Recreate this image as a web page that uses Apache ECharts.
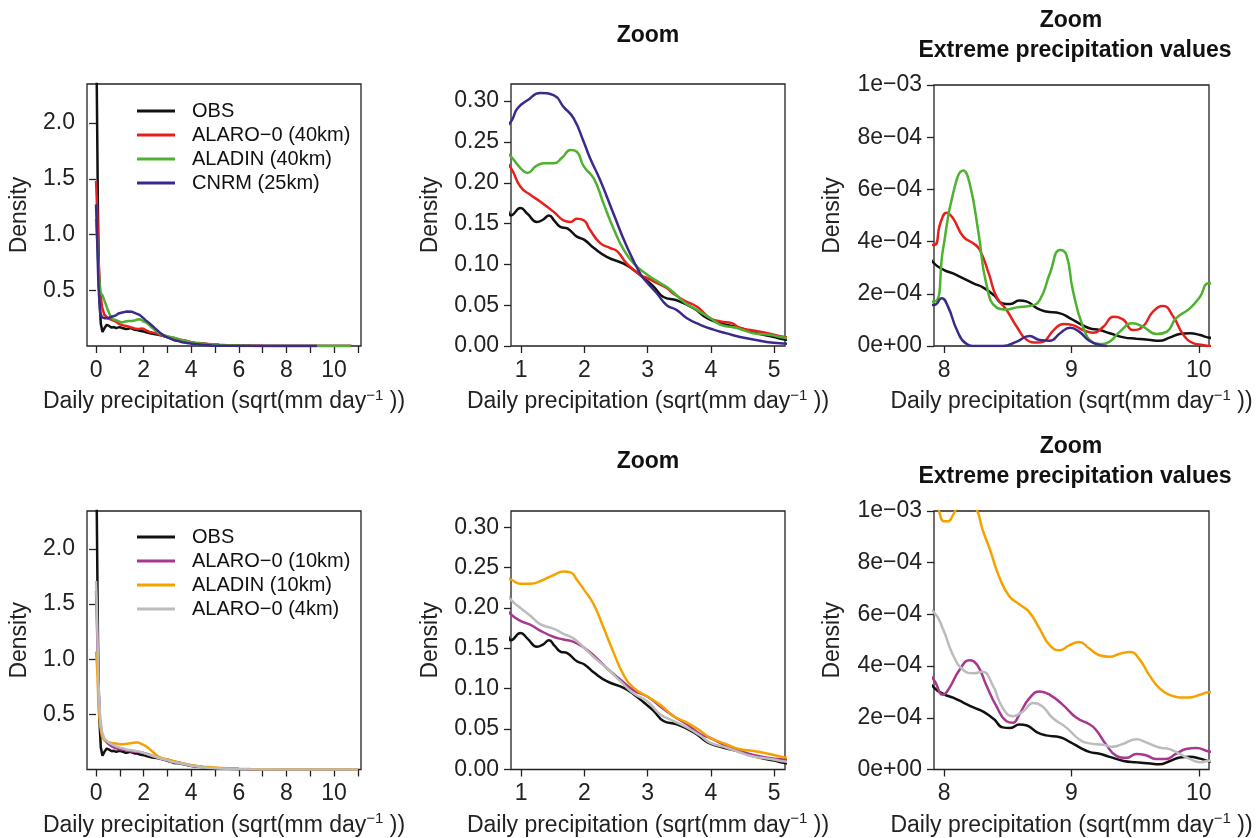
<!DOCTYPE html>
<html>
<head>
<meta charset="utf-8">
<script src="https://cdn.jsdelivr.net/npm/echarts@6/dist/echarts.min.js"></script>
<style>
  html, body { margin: 0; padding: 0; background: #fff; }
  #chart { width: 1259px; height: 838px; }
</style>
</head>
<body>
<div id="chart"></div>
<script>
// density curves, x = sqrt(mm/day)
var obsX = [0, 0.03, 0.08, 0.13, 0.2, 0.27, 0.35, 0.45, 0.55, 0.66, 0.75,
  0.84, 0.99, 1.1, 1.25, 1.35, 1.44, 1.53, 1.62, 1.73, 1.88, 2.0, 2.15, 2.36, 2.62, 2.78, 2.94, 3.09, 3.25, 3.46, 3.73, 3.94, 4.15, 4.46, 4.73, 5.0, 5.17,
  5.5, 6.0, 6.5, 7.0, 7.5,
  7.92, 8.0, 8.07, 8.15, 8.23, 8.31, 8.39, 8.46, 8.52, 8.59, 8.65, 8.73, 8.8, 8.91, 8.99, 9.07, 9.14, 9.22, 9.3, 9.41, 9.51, 9.62, 9.69, 9.77, 9.85, 9.93, 10.01, 10.08, 10.4, 10.7];
var obsY = [4.0, 2.35, 1.2, 0.5, 0.2, 0.125, 0.16, 0.19, 0.18, 0.165, 0.17,
  0.160, 0.169, 0.162, 0.152, 0.155, 0.160, 0.153, 0.146, 0.144, 0.134, 0.130, 0.120, 0.109, 0.101, 0.093, 0.083, 0.073, 0.060, 0.056, 0.046, 0.034, 0.028, 0.022, 0.0155, 0.011, 0.008,
  0.0058, 0.0035, 0.0019, 0.0010, 0.00055,
  3.17e-4, 2.91e-4, 2.78e-4, 2.59e-4, 2.40e-4, 2.23e-4, 1.95e-4, 1.63e-4, 1.61e-4, 1.74e-4, 1.70e-4, 1.44e-4, 1.32e-4, 1.25e-4, 1.06e-4, 0.84e-4, 0.68e-4, 0.61e-4, 0.49e-4, 0.33e-4, 0.28e-4, 0.23e-4, 0.20e-4, 0.32e-4, 0.46e-4, 0.49e-4, 0.42e-4, 0.32e-4, 0.2e-4, 0.1e-4];

var alaro40X = [0, 0.05, 0.1, 0.17, 0.25, 0.35, 0.5, 0.65,
  0.84, 0.99, 1.15, 1.3, 1.52, 1.67, 1.78, 1.88, 1.99, 2.09, 2.25, 2.41, 2.52, 2.67, 2.88, 3.0, 3.1, 3.3, 3.41, 3.57, 3.78, 3.99, 4.15, 4.33, 4.46, 4.67, 4.88, 5.17,
  5.5, 6.0, 6.5, 7.0, 7.5,
  7.92, 7.97, 8.02, 8.07, 8.15, 8.23, 8.28, 8.35, 8.41, 8.49, 8.57, 8.65, 8.73, 8.78, 8.86, 8.94, 9.01, 9.09, 9.17, 9.25, 9.33, 9.41, 9.48, 9.56, 9.64, 9.72, 9.8, 9.88, 9.96, 10.03, 10.08, 10.4, 10.75];
var alaro40Y = [1.48, 1.2, 0.8, 0.5, 0.35, 0.28, 0.25, 0.235,
  0.218, 0.195, 0.185, 0.177, 0.164, 0.154, 0.152, 0.156, 0.154, 0.142, 0.126, 0.120, 0.116, 0.101, 0.087, 0.083, 0.079, 0.071, 0.064, 0.056, 0.048, 0.034, 0.030, 0.028, 0.022, 0.019, 0.016, 0.011,
  0.0075, 0.0045, 0.0025, 0.0013, 0.0007,
  3.87e-4, 4.70e-4, 5.11e-4, 4.89e-4, 4.19e-4, 3.93e-4, 3.68e-4, 2.78e-4, 1.89e-4, 1.38e-4, 0.74e-4, 0.23e-4, 0.13e-4, 0.17e-4, 0.61e-4, 0.84e-4, 0.80e-4, 0.61e-4, 0.51e-4, 0.74e-4, 1.12e-4, 1.00e-4, 0.61e-4, 0.74e-4, 1.32e-4, 1.53e-4, 1.12e-4, 0.42e-4, 0.10e-4, 0.04e-4, 0, 0, 0];

var aladin40X = [0, 0.05, 0.1, 0.18, 0.28, 0.4, 0.5, 0.6, 0.72,
  0.84, 0.99, 1.1, 1.23, 1.36, 1.52, 1.65, 1.78, 1.88, 1.99, 2.15, 2.3, 2.46, 2.62, 2.78, 3.0, 3.2, 3.36, 3.57, 3.78, 3.99, 4.15, 4.41, 4.67, 4.94, 5.17,
  5.5, 6.0, 6.5, 7.0, 7.5,
  7.92, 7.99, 8.07, 8.15, 8.2, 8.27, 8.33, 8.41, 8.49, 8.57, 8.67, 8.75, 8.83, 8.91, 8.96, 9.01, 9.09, 9.17, 9.22, 9.3, 9.38, 9.48, 9.56, 9.67, 9.75, 9.82, 9.93, 10.01, 10.08, 10.3, 10.7];
var aladin40Y = [1.14, 0.95, 0.7, 0.48, 0.45, 0.38, 0.32, 0.27, 0.24,
  0.232, 0.218, 0.212, 0.220, 0.224, 0.224, 0.231, 0.240, 0.238, 0.220, 0.205, 0.175, 0.144, 0.118, 0.101, 0.087, 0.077, 0.069, 0.054, 0.044, 0.034, 0.026, 0.022, 0.0155, 0.0135, 0.010,
  0.007, 0.004, 0.0022, 0.0011, 0.0005,
  1.70e-4, 3.68e-4, 5.85e-4, 6.72e-4, 6.23e-4, 4.32e-4, 2.40e-4, 1.48e-4, 1.40e-4, 1.48e-4, 1.53e-4, 1.76e-4, 2.78e-4, 3.68e-4, 3.49e-4, 2.15e-4, 0.74e-4, 0.13e-4, 0.08e-4, 0.17e-4, 0.55e-4, 0.87e-4, 0.74e-4, 0.46e-4, 0.55e-4, 1.06e-4, 1.44e-4, 1.89e-4, 2.40e-4, 2.0e-4, 0.5e-4];

var cnrmX = [0, 0.04, 0.1, 0.17, 0.25, 0.35, 0.5, 0.65,
  0.84, 0.94, 1.1, 1.3, 1.52, 1.67, 1.83, 1.99, 2.09, 2.25, 2.46, 2.67, 2.88, 3.0, 3.15, 3.3, 3.46, 3.62, 3.83, 4.04, 4.25, 4.46, 4.67, 4.88, 5.17,
  5.5, 6.0, 6.5, 7.0, 7.5,
  7.92, 7.98, 8.03, 8.1, 8.17, 8.25, 8.46, 8.57, 8.67, 8.75, 8.83, 8.91, 8.99, 9.06, 9.14, 9.22, 9.28];
var cnrmY = [1.27, 1.0, 0.55, 0.3, 0.258, 0.25, 0.25, 0.262,
  0.275, 0.291, 0.301, 0.310, 0.307, 0.293, 0.279, 0.250, 0.230, 0.203, 0.162, 0.122, 0.089, 0.077, 0.064, 0.050, 0.044, 0.034, 0.026, 0.020, 0.0155, 0.011, 0.008, 0.005, 0.003,
  0.0017, 0.0008, 0.0004, 0.00025, 0.0002,
  1.57e-4, 1.83e-4, 1.51e-4, 0.61e-4, 0.10e-4, 0, 0, 0.17e-4, 0.38e-4, 0.23e-4, 0.20e-4, 0.49e-4, 0.70e-4, 0.55e-4, 0.20e-4, 0.04e-4, 0];

var alaro10X = [0, 0.04, 0.1, 0.17, 0.25, 0.35, 0.5, 0.65,
  0.84, 0.99, 1.15, 1.3, 1.52, 1.67, 1.83, 1.99, 2.15, 2.36, 2.57, 2.78, 3.0, 3.2, 3.41, 3.62, 3.83, 3.99, 4.25, 4.46, 4.67, 4.94, 5.17,
  5.5, 6.0, 6.5, 7.0, 7.5,
  7.92, 7.99, 8.04, 8.12, 8.2, 8.26, 8.33, 8.41, 8.49, 8.54, 8.59, 8.67, 8.75, 8.83, 8.93, 9.04, 9.14, 9.19, 9.27, 9.35, 9.43, 9.51, 9.59, 9.66, 9.74, 9.82, 9.9, 9.98, 10.08, 10.5, 11.0];
var alaro10Y = [1.62, 1.3, 0.75, 0.45, 0.32, 0.27, 0.235, 0.21,
  0.192, 0.184, 0.179, 0.172, 0.164, 0.161, 0.158, 0.151, 0.141, 0.125, 0.111, 0.098, 0.090, 0.078, 0.066, 0.056, 0.044, 0.039, 0.029, 0.023, 0.018, 0.014, 0.012,
  0.008, 0.0045, 0.0022, 0.0011, 0.0006,
  3.46e-4, 2.89e-4, 3.15e-4, 3.85e-4, 4.23e-4, 4.04e-4, 3.27e-4, 2.45e-4, 1.87e-4, 1.81e-4, 2.13e-4, 2.76e-4, 3.02e-4, 2.89e-4, 2.51e-4, 2.00e-4, 1.75e-4, 1.55e-4, 0.98e-4, 0.54e-4, 0.45e-4, 0.60e-4, 0.54e-4, 0.41e-4, 0.41e-4, 0.60e-4, 0.79e-4, 0.83e-4, 0.70e-4, 0.3e-4, 0.1e-4];

var aladin10X = [0, 0.05, 0.1, 0.17, 0.25, 0.35, 0.5, 0.65,
  0.84, 0.99, 1.15, 1.3, 1.52, 1.67, 1.78, 1.88, 1.99, 2.15, 2.3, 2.46, 2.62, 2.78, 3.0, 3.2, 3.41, 3.62, 3.83, 3.99, 4.25, 4.46, 4.67, 4.94, 5.17,
  5.5, 6.0, 6.5, 7.0, 7.5,
  7.92, 7.96, 8.0, 8.03, 8.07, 8.1, 8.2, 8.26, 8.3, 8.36, 8.43, 8.51, 8.59, 8.67, 8.75, 8.83, 8.91, 8.98, 9.06, 9.14, 9.22, 9.3, 9.38, 9.46, 9.53, 9.61, 9.69, 9.77, 9.85, 9.93, 10.01, 10.08, 10.5, 11.0];
var aladin10Y = [1.07, 0.9, 0.6, 0.4, 0.3, 0.265, 0.25, 0.24,
  0.235, 0.230, 0.230, 0.233, 0.241, 0.245, 0.244, 0.235, 0.223, 0.204, 0.176, 0.145, 0.117, 0.101, 0.090, 0.080, 0.066, 0.058, 0.048, 0.039, 0.031, 0.025, 0.023, 0.019, 0.015,
  0.011, 0.007, 0.0042, 0.0024, 0.0014,
  1.10e-3, 1.0e-3, 9.6e-4, 9.6e-4, 9.85e-4, 1.01e-3, 1.04e-3, 1.0e-3, 9.3e-4, 8.5e-4, 7.48e-4, 6.71e-4, 6.39e-4, 6.08e-4, 5.44e-4, 4.80e-4, 4.61e-4, 4.80e-4, 4.93e-4, 4.68e-4, 4.42e-4, 4.36e-4, 4.48e-4, 4.55e-4, 4.29e-4, 3.66e-4, 3.15e-4, 2.89e-4, 2.79e-4, 2.79e-4, 2.89e-4, 2.99e-4, 2e-4, 1e-4];

var alaro4X = [0, 0.04, 0.1, 0.17, 0.25, 0.35, 0.5, 0.65,
  0.84, 0.99, 1.15, 1.3, 1.52, 1.67, 1.83, 1.99, 2.15, 2.36, 2.57, 2.78, 3.0, 3.2, 3.41, 3.62, 3.83, 3.99, 4.25, 4.46, 4.67, 4.94, 5.17,
  5.5, 6.0, 6.5, 7.0, 7.5,
  7.92, 7.99, 8.07, 8.15, 8.23, 8.3, 8.38, 8.46, 8.54, 8.62, 8.7, 8.77, 8.85, 8.96, 9.06, 9.14, 9.25, 9.32, 9.4, 9.51, 9.59, 9.69, 9.77, 9.85, 9.93, 10.01, 10.08, 10.5, 11.0];
var alaro4Y = [1.71, 1.4, 0.8, 0.47, 0.34, 0.28, 0.25, 0.23,
  0.210, 0.200, 0.190, 0.180, 0.174, 0.168, 0.162, 0.151, 0.139, 0.125, 0.109, 0.094, 0.084, 0.068, 0.060, 0.052, 0.042, 0.033, 0.027, 0.021, 0.016, 0.013, 0.010,
  0.0068, 0.0038, 0.002, 0.0011, 0.0008,
  6.08e-4, 5.44e-4, 4.42e-4, 3.85e-4, 3.72e-4, 3.78e-4, 3.27e-4, 2.38e-4, 2.06e-4, 2.25e-4, 2.57e-4, 2.45e-4, 2.00e-4, 1.62e-4, 1.17e-4, 1.01e-4, 0.96e-4, 0.88e-4, 0.98e-4, 1.17e-4, 1.04e-4, 0.85e-4, 0.79e-4, 0.60e-4, 0.41e-4, 0.28e-4, 0.34e-4, 0.2e-4, 0.1e-4];

// series names and colours
var topNames = ['OBS', 'ALARO\u22120 (40km)', 'ALADIN (40km)', 'CNRM (25km)'];
var botNames = ['OBS', 'ALARO\u22120 (10km)', 'ALADIN (10km)', 'ALARO\u22120 (4km)'];
var topColors = ['#111111', '#e8201c', '#4fb130', '#3b2a8c'];
var botColors = ['#111111', '#a8378f', '#f5a200', '#bcbcbc'];

// tick positions / labels
var fullXTicks = [0, 1, 2, 3, 4, 5, 6, 7, 8, 9, 10, 11];
var fullXLabels = [0, 2, 4, 6, 8, 10];
var fullYTicks = [0.5, 1.0, 1.5, 2.0];
var zoomXTicks = [1, 2, 3, 4, 5];
var zoomYTicks = [0, 0.05, 0.10, 0.15, 0.20, 0.25, 0.30];
var extXTicks = [8, 9, 10];
var extYTicks = [0, 2e-4, 4e-4, 6e-4, 8e-4, 1e-3];
var extYLabels = ['0e+00', '2e\u221204', '4e\u221204', '6e\u221204', '8e\u221204', '1e\u221203'];

function zip(xs, ys) {
  var out = [];
  for (var i = 0; i < xs.length; i++) out.push([xs[i], ys[i]]);
  return out;
}

var topData = [zip(obsX, obsY), zip(alaro40X, alaro40Y), zip(aladin40X, aladin40Y), zip(cnrmX, cnrmY)];
var botData = [zip(obsX, obsY), zip(alaro10X, alaro10Y), zip(aladin10X, aladin10Y), zip(alaro4X, alaro4Y)];

var FONT = 'Liberation Sans, Arial, Helvetica, sans-serif';
var INK = '#222';
var FS = 23;

var grids = [
  {left: 87, top: 84, width: 274, height: 262},
  {left: 511, top: 84, width: 274, height: 262},
  {left: 934, top: 85, width: 275, height: 261},
  {left: 87, top: 511, width: 274, height: 261},
  {left: 511, top: 511, width: 274, height: 261},
  {left: 934, top: 511, width: 275, height: 261}
].map(function (g) {
  g.show = true; g.borderColor = INK; g.borderWidth = 1.3; g.backgroundColor = 'transparent';
  return g;
});

var xName = '{a|Daily precipitation (sqrt(mm day}{s|\u22121}{a| ))}';

function xAxis(i, min, max, ticks, labels) {
  return {
    type: 'value', gridIndex: i, min: min, max: max,
    splitLine: {show: false},
    axisLine: {show: false},
    axisTick: {show: true, length: 7, lineStyle: {color: INK, width: 1.3}, customValues: ticks},
    axisLabel: {color: INK, fontFamily: FONT, fontSize: FS, margin: 13, customValues: labels,
      formatter: function (v) { return String(v); }},
    name: xName, nameLocation: 'middle', nameGap: 42,
    nameTextStyle: {
      rich: {
        a: {fontFamily: FONT, fontSize: FS, color: INK, lineHeight: 28},
        s: {fontFamily: FONT, fontSize: 15, color: INK, lineHeight: 15, verticalAlign: 'top'}
      }
    }
  };
}

function yAxis(i, max, ticks, fmt, gap) {
  return {
    type: 'value', gridIndex: i, min: 0, max: max,
    splitLine: {show: false},
    axisLine: {show: false},
    axisTick: {show: true, length: 7, lineStyle: {color: INK, width: 1.3}, customValues: ticks},
    axisLabel: {color: INK, fontFamily: FONT, fontSize: FS, margin: 12, customValues: ticks, formatter: fmt},
    name: 'Density', nameLocation: 'middle', nameGap: gap,
    nameTextStyle: {fontFamily: FONT, fontSize: FS, color: INK}
  };
}

var fmt1 = function (v) { return v.toFixed(1); };
var fmt2 = function (v) { return v.toFixed(2); };
var fmtE = function (v) {
  for (var k = 0; k < extYTicks.length; k++) if (Math.abs(v - extYTicks[k]) < 1e-9) return extYLabels[k];
  return '';
};

var xAxes = [
  xAxis(0, -0.38, 11.13, fullXTicks, fullXLabels),
  xAxis(1, 0.84, 5.17, zoomXTicks, zoomXTicks),
  xAxis(2, 7.92, 10.08, extXTicks, extXTicks),
  xAxis(3, -0.38, 11.13, fullXTicks, fullXLabels),
  xAxis(4, 0.84, 5.17, zoomXTicks, zoomXTicks),
  xAxis(5, 7.92, 10.08, extXTicks, extXTicks)
];
var yAxes = [
  yAxis(0, 2.35, fullYTicks, fmt1, 56),
  yAxis(1, 0.321, zoomYTicks, fmt2, 69),
  yAxis(2, 1e-3, extYTicks, fmtE, 90),
  yAxis(3, 2.345, fullYTicks, fmt1, 56),
  yAxis(4, 0.32, zoomYTicks, fmt2, 69),
  yAxis(5, 1e-3, extYTicks, fmtE, 90)
];

var series = [];
function addPanel(idx, names, colors, data, smooth) {
  for (var k = 0; k < names.length; k++) {
    series.push({
      type: 'line', name: names[k], xAxisIndex: idx, yAxisIndex: idx,
      data: data[k], showSymbol: false, symbol: 'none', smooth: smooth,
      clip: true, lineStyle: {color: colors[k], width: 2.5}, itemStyle: {color: colors[k]},
      emphasis: {disabled: true}
    });
  }
}
addPanel(0, topNames, topColors, topData, false);
addPanel(1, topNames, topColors, topData, 0.5);
addPanel(2, topNames, topColors, topData, 0.5);
addPanel(3, botNames, botColors, botData, false);
addPanel(4, botNames, botColors, botData, 0.5);
addPanel(5, botNames, botColors, botData, 0.5);

function legend(top, names) {
  return {
    orient: 'vertical', left: 132, top: top, data: names, icon: 'rect',
    itemWidth: 38, itemHeight: 3, itemGap: 4, selectedMode: false,
    textStyle: {fontFamily: FONT, fontSize: 20, lineHeight: 20, color: '#111', padding: [0, 0, 0, 12]}
  };
}

function label(x, y, text) {
  return {type: 'text', x: x, y: y, style: {text: text, fontFamily: FONT, fontSize: 23, fontWeight: 'bold',
    fill: '#111', textAlign: 'center', textVerticalAlign: 'middle'}};
}

var option = {
  animation: false,
  backgroundColor: '#fff',
  grid: grids,
  xAxis: xAxes,
  yAxis: yAxes,
  legend: [legend(96, topNames), legend(522, botNames)],
  series: series,
  graphic: [
    label(648, 36, 'Zoom'),
    label(1071, 21, 'Zoom'),
    label(1075, 51, 'Extreme precipitation values'),
    label(648, 462, 'Zoom'),
    label(1071, 447, 'Zoom'),
    label(1075, 477, 'Extreme precipitation values')
  ]
};

var myChart = echarts.init(document.getElementById('chart'));
myChart.setOption(option);
</script>
</body>
</html>
